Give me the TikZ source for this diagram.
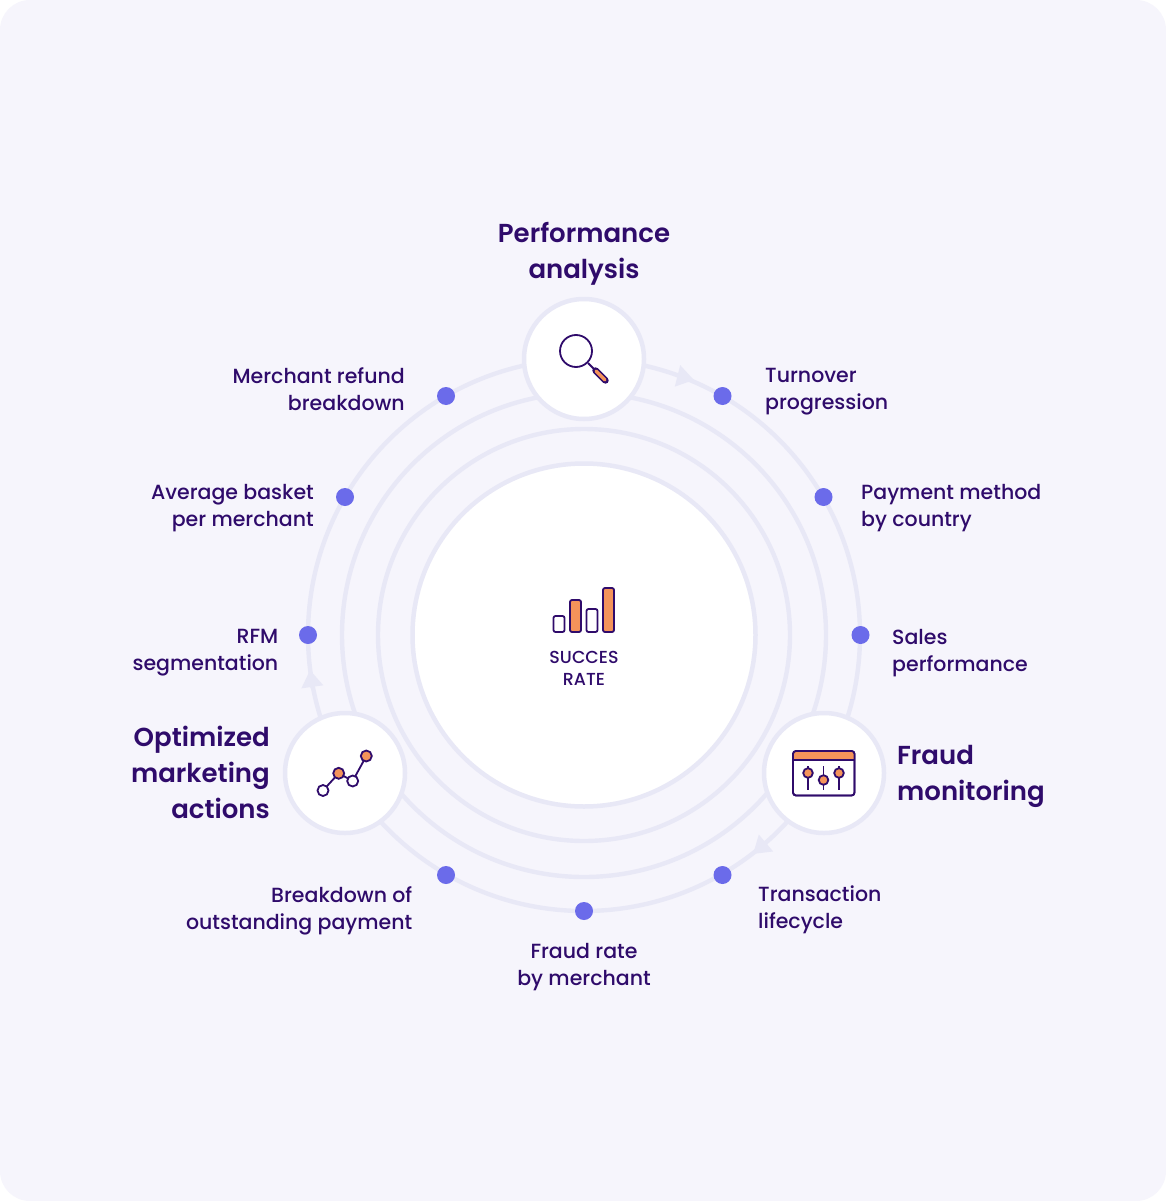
\documentclass[tikz,border=0pt]{standalone}
\usepackage{fontspec}
\setmainfont{Poppins Medium}[BoldFont=Poppins SemiBold]
\definecolor{pagebg}{HTML}{F6F5FC}
\definecolor{ringcol}{HTML}{E8E8F6}
\definecolor{inkcol}{HTML}{2F0B6B}
\definecolor{dotcol}{HTML}{6B6BEA}
\definecolor{orangecol}{HTML}{F4935A}
\tikzset{
 ring/.style={draw=ringcol,line width=4.4pt},
 hub/.style={circle,draw=ringcol,line width=4.5pt,fill=white,minimum size=120pt,inner sep=0pt},
 stop/.style={circle,fill=dotcol,minimum size=18pt,inner sep=0pt},
 sublabel/.style={text=inkcol,inner sep=0pt,font=\fontsize{20.5}{27}\selectfont},
 headlabel/.style={text=inkcol,inner sep=0pt,font=\bfseries\fontsize{26}{36}\selectfont},
 iconline/.style={draw=inkcol,line width=1.8pt},
 iconfill/.style={iconline,fill=orangecol},
 iconblank/.style={iconline,fill=white},
 flowtip/.style={draw=ringcol,line width=4pt,-{Triangle[length=17pt,width=21pt,fill=ringcol]},shorten >=0pt},
}
\usetikzlibrary{arrows.meta}
\begin{document}
\begin{tikzpicture}[x=1pt,y=-1pt]
\useasboundingbox (0,0) rectangle (1166,1201);
\fill[white] (0,0) rectangle (1166,1201);
\fill[pagebg,rounded corners=30pt] (0,0) rectangle (1166,1201);
\coordinate (mid) at (584,635);
% rings
\draw[ring] (mid) circle (276);
\draw[ring] (mid) circle (242);
\draw[ring] (mid) circle (206);
\node[circle,draw=ringcol,line width=4.5pt,fill=white,minimum size=343pt,inner sep=0pt] (core) at (mid) {};
% flow tips
\coordinate (tipA) at (694,380);
\coordinate (tailA) at (678,376);
\coordinate (tipB) at (753,854);
\coordinate (tailB) at (766,843);
\coordinate (tipC) at (310,670);
\coordinate (tailC) at (312.5,688);
\draw[flowtip] (tailA)--(tipA);
\draw[flowtip] (tailB)--(tipB);
\draw[flowtip] (tailC)--(tipC);
% hubs
\node[hub] (perf) at (584,359) {};
\node[hub] (fraud) at (824,773) {};
\node[hub] (optim) at (345,773) {};
% stops
\node[stop] (turn) at (722.5,396) {};
\node[stop] (pay) at (823.5,497) {};
\node[stop] (sales) at (860.5,635) {};
\node[stop] (life) at (722.5,875) {};
\node[stop] (rate) at (584,911) {};
\node[stop] (owed) at (446,875) {};
\node[stop] (rfm) at (308,635) {};
\node[stop] (basket) at (345,497) {};
\node[stop] (refund) at (446,396) {};
% labels
\node[sublabel,align=left,anchor=north west] (turnT) at (765,368.5) {Turnover\\progression};
\node[sublabel,align=left,anchor=north west] (payT) at (861,484) {Payment method\\by country};
\node[sublabel,align=left,anchor=north west] (salesT) at (892,629) {Sales\\performance};
\node[sublabel,align=left,anchor=north west] (lifeT) at (758,886) {Transaction\\lifecycle};
\node[sublabel,align=center,anchor=north] (rateT) at (584,943) {Fraud rate\\by merchant};
\node[sublabel,align=right,anchor=north east] (owedT) at (412.5,886) {Breakdown of\\outstanding payment};
\node[sublabel,align=right,anchor=north east] (rfmT) at (278.5,629.5) {RFM\\segmentation};
\node[sublabel,align=right,anchor=north east] (basketT) at (314,484) {Average basket\\per merchant};
\node[sublabel,align=right,anchor=north east] (refundT) at (405,367.5) {Merchant refund\\breakdown};
\node[headlabel,align=center,anchor=north] (perfT) at (584,222) {Performance\\analysis};
\node[headlabel,align=left,anchor=north west] (fraudT) at (897,745) {Fraud\\monitoring};
\node[headlabel,align=right,anchor=north east] (optimT) at (270,726) {Optimized\\marketing\\actions};
\node[text=inkcol,inner sep=0pt,align=center,anchor=north,font=\fontsize{17.4}{22}\selectfont] (coreT) at (584,651) {SUCCES\\RATE};
% magnifier
\draw[iconline] (576,351) circle (16);
\draw[iconline] (588,363)--(595,370);
\draw[iconfill,line width=6.4pt,draw=inkcol,line cap=round] (595.5,370.5)--(605.5,380.5);
\draw[draw=orangecol,line width=3.2pt,line cap=round] (596,371)--(605,380);
% sliders
\draw[iconblank,rounded corners=3pt] (793,751) rectangle (854.5,795.5);
\begin{scope}
\clip[rounded corners=3pt] (793,751) rectangle (854.5,760);
\fill[orangecol] (793,751) rectangle (854.5,760);
\end{scope}
\draw[iconline,rounded corners=3pt] (793,751) rectangle (854.5,795.5);
\draw[iconline] (793,760)--(854.5,760);
\foreach \cx/\cy in {808/773,823.5/780,839/773}{
  \draw[iconline] (\cx,766)--(\cx,790);
  \draw[iconfill] (\cx,\cy) circle (4.8);
}
% trend
\draw[iconline] (323,790.5)--(338.7,773.3)--(352.7,781)--(366.3,756);
\draw[iconblank] (323,790.5) circle (5.5);
\draw[iconfill] (338.7,773.3) circle (5.5);
\draw[iconblank] (352.7,781) circle (5.5);
\draw[iconfill] (366.3,756) circle (5.5);
% bars
\draw[iconblank,rounded corners=2pt] (553.5,616) rectangle (564.5,632);
\draw[iconfill,rounded corners=2pt] (570,600) rectangle (581,632);
\draw[iconblank,rounded corners=2pt] (586.5,609) rectangle (597.5,632);
\draw[iconfill,rounded corners=2pt] (603,588) rectangle (614,632);
\end{tikzpicture}
\end{document}
